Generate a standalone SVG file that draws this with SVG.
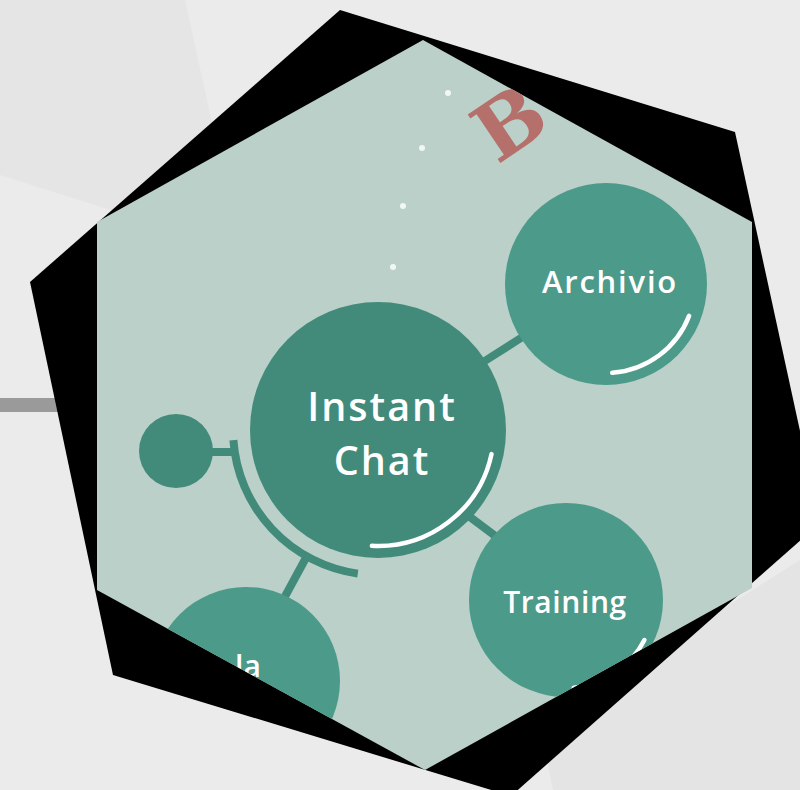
<svg xmlns="http://www.w3.org/2000/svg" width="800" height="790" viewBox="0 0 800 790">
  <style>
    .lbl { font-family: "Open Sans", "Noto Sans", "DejaVu Sans", sans-serif; fill: #ffffff; text-anchor: middle; font-weight: 600; }
    .dark { fill: #428b7b; }
    .light { fill: #4c9a8a; }
    .conn { stroke: #428b7b; stroke-width: 8; fill: none; stroke-linecap: butt; }
    .hl { stroke: #ffffff; stroke-width: 4.5; fill: none; stroke-linecap: round; }
    .dot { fill: #f2f7f5; }
  </style>
  <defs>
    <clipPath id="hexclip">
      <polygon points="423,40 752,222 752,588 425,770 97,590 97,222"/>
    </clipPath>
  </defs>

  <g id="background">
    <rect x="0" y="0" width="800" height="790" fill="#ebebeb"/>
    <polygon points="0,0 185,0 240,251 0,175" fill="#e5e5e5"/>
    <polygon points="540,725 800,560 800,790 553,790" fill="#e4e4e4"/>
    <rect x="0" y="398" width="60" height="14" fill="#9a9a9a"/>
    <polygon points="340,10 735,132 820,523 511,796 113,675 30,282" fill="#000000"/>
    <polygon points="423,40 752,222 752,588 425,770 97,590 97,222" fill="#bad0c9"/>
  </g>

  <g clip-path="url(#hexclip)">
    <g id="decor">
      <circle class="dot" cx="448" cy="93" r="3"/>
      <circle class="dot" cx="422" cy="148" r="3"/>
      <circle class="dot" cx="403" cy="206" r="3"/>
      <circle class="dot" cx="393" cy="267" r="3"/>
      <text x="0" y="0" transform="translate(509,122) rotate(-34)" font-family="DejaVu Serif, Liberation Serif, serif" font-weight="bold" font-size="80" fill="#b6706b" text-anchor="middle" dy="29">B</text>
    </g>

    <g id="connectors">
      <line class="conn" x1="480" y1="364" x2="524" y2="336"/>
      <line class="conn" x1="466" y1="514" x2="498" y2="538" stroke-width="7"/>
      <line class="conn" x1="210" y1="452" x2="236" y2="452"/>
      <line class="conn" x1="308" y1="554" x2="282" y2="602"/>
      <path class="conn" d="M357.8,573.6 A145,145 0 0 1 233.4,440.1"/>
    </g>

    <g id="node-small">
      <circle class="dark" cx="176" cy="451" r="37"/>
    </g>

    <g id="node-instant-chat">
      <circle class="dark" cx="378" cy="430" r="128"/>
      <path class="hl" d="M491.5,454.1 A116,116 0 0 1 371.9,545.8"/>
      <text class="lbl" x="382" y="421" font-size="39.5" letter-spacing="2">Instant</text>
      <text class="lbl" x="382" y="475" font-size="39.5" letter-spacing="2">Chat</text>
    </g>

    <g id="node-archivio">
      <circle class="light" cx="606" cy="284" r="101"/>
      <path class="hl" d="M689.1,315.9 A89,89 0 0 1 612.2,372.8"/>
      <text class="lbl" x="610" y="293" font-size="31" letter-spacing="1.8">Archivio</text>
    </g>

    <g id="node-training">
      <circle class="light" cx="566" cy="600" r="97"/>
      <path class="hl" d="M644.4,640 A88,88 0 0 1 573.7,687.7"/>
      <text class="lbl" x="565" y="613" font-size="30" letter-spacing="0.6">Training</text>
    </g>

    <g id="node-la">
      <circle class="light" cx="246" cy="681" r="94"/>
      <text class="lbl" x="248" y="677" font-size="30">la</text>
    </g>
  </g>
</svg>
